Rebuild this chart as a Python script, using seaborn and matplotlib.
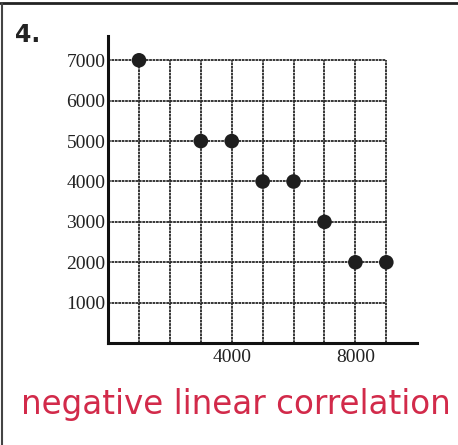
import numpy as np
import pandas as pd
import matplotlib
matplotlib.use('Agg')
import matplotlib.pyplot as plt
import seaborn as sns
from matplotlib.lines import Line2D

x_vals = [1000, 3000, 4000, 5000, 6000, 7000, 8000, 9000]
y_vals = [7000, 5000, 5000, 4000, 4000, 3000, 2000, 2000]
x_ticks = [4000, 8000]
y_ticks = [1000, 2000, 3000, 4000, 5000, 6000, 7000]
grid_x = [1000, 2000, 3000, 4000, 5000, 6000, 7000, 8000, 9000]
grid_y = [1000, 2000, 3000, 4000, 5000, 6000, 7000]
label = "negative linear correlation"
problem = "4."

df = pd.DataFrame({"x": x_vals, "y": y_vals})

sns.set_style("white")
fig = plt.figure(figsize=(4.58, 4.45), dpi=100)
ax = fig.add_axes([0.236, 0.229, 0.675, 0.690])

# grid only covers the 0..9000 x 0..7000 box
ax.hlines(grid_y, 0, max(grid_x), colors='#262626', lw=1.3,
          linestyles=(0, (1.5, 0.4)), zorder=1)
ax.vlines(grid_x, 0, max(grid_y), colors='#262626', lw=1.3,
          linestyles=(0, (1.5, 0.4)), zorder=1)

sns.scatterplot(data=df, x="x", y="y", ax=ax, color='#1e1e1e', s=110,
                edgecolor='none', zorder=3, clip_on=False)

ax.set_xlim(0, 10000)
ax.set_ylim(0, 7600)
ax.set_xticks(x_ticks)
ax.set_yticks(y_ticks)
ax.set_xticklabels([str(t) for t in x_ticks], family='Liberation Serif', fontsize=14, color='#222222')
ax.set_yticklabels([str(t) for t in y_ticks], family='Liberation Serif', fontsize=14, color='#222222')
ax.tick_params(axis='both', length=0)
ax.tick_params(axis='y', pad=2)
ax.tick_params(axis='x', pad=4)
ax.set_xlabel('')
ax.set_ylabel('')
for side in ['top', 'right']:
    ax.spines[side].set_visible(False)
for side in ['left', 'bottom']:
    ax.spines[side].set_linewidth(2.2)
    ax.spines[side].set_color('#111111')

# worksheet border
fig.add_artist(Line2D([0, 1], [0.994, 0.994], transform=fig.transFigure, color='#222222', lw=2))
fig.add_artist(Line2D([0.004, 0.004], [0, 0.994], transform=fig.transFigure, color='#444444', lw=1.5))

fig.text(0.032, 0.905, problem, fontsize=17, fontweight='bold', family='DejaVu Sans', color='#222222')
fig.text(0.045, 0.09, label, fontsize=23.5, family='DejaVu Sans', color='#d22a4a', va='center')

fig.savefig('out.png', dpi=100)
